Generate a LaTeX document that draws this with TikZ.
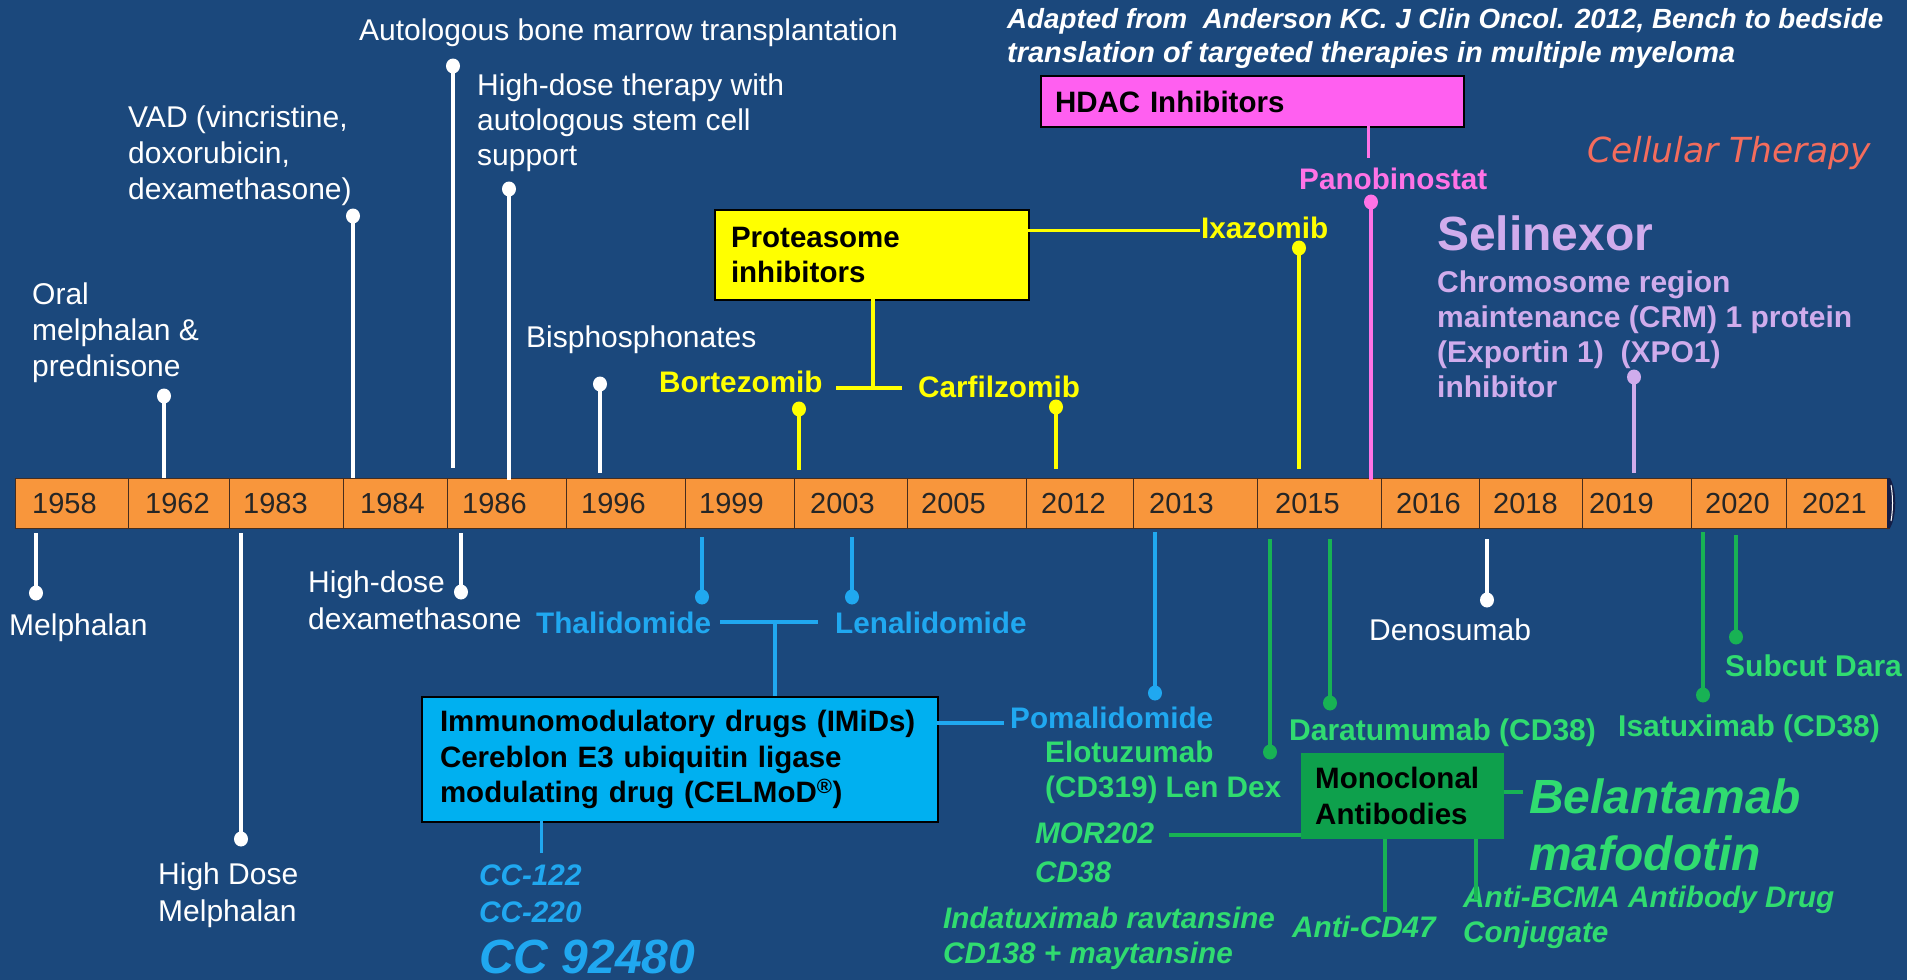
\documentclass[tikz,border=0pt]{standalone}
\usepackage{graphicx}
\usepackage{fontspec}
\setmainfont{Liberation Sans}
\newfontfamily\dvs{DejaVu Sans}
\newcommand\fz[2]{\fontsize{#1}{#2}\selectfont}
\definecolor{bg}{RGB}{27,72,124}
\definecolor{orng}{RGB}{248,150,60}
\definecolor{celledge}{RGB}{70,45,30}
\definecolor{ylw}{RGB}{255,255,0}
\definecolor{pnkbox}{RGB}{255,95,240}
\definecolor{pnk}{RGB}{255,115,230}
\definecolor{lav}{RGB}{208,172,236}
\definecolor{salm}{RGB}{244,108,92}
\definecolor{blu}{RGB}{32,168,240}
\definecolor{blubox}{RGB}{0,176,240}
\definecolor{grn}{RGB}{48,220,112}
\definecolor{grnln}{RGB}{24,178,84}
\definecolor{grnbox}{RGB}{14,160,76}
\definecolor{capdark}{RGB}{20,30,70}
\begin{document}
\begin{tikzpicture}[x=1pt,y=-1pt,
  txt/.style={inner sep=0pt, anchor=base west, font=\fz{30}{35}},
  btxt/.style={inner sep=0pt, anchor=base west, font=\bfseries\fz{29.7}{35}},
  bitxt/.style={inner sep=0pt, anchor=base west, font=\bfseries\itshape\fz{29.7}{35}},
  mlt/.style={inner sep=0pt, anchor=north west, align=left},
  cell/.style={draw=celledge, line width=1.3pt, fill=orng, minimum height=50pt, inner sep=0pt, anchor=north west},
  yr/.style={inner sep=0pt, anchor=base west, font=\fz{29}{35}, text=black!85},
  pinline/.style={line width=4pt},
  conn/.style={line width=4pt},
  catbox/.style={draw=black, line width=2pt, anchor=north west, align=left, font=\bfseries\fz{29.5}{35.5}, text=black}
]
\useasboundingbox (0,0) rectangle (1907,980);
\fill[bg] (0,0) rectangle (1907,980);

% ---------- timeline bar ----------
\foreach \a/\b/\yy/\p in {15/128/1958/17, 128/229/1962/17, 229/343/1983/14, 343/447/1984/17, 447/566/1986/15, 566/685/1996/15, 685/794/1999/14, 794/907/2003/16, 907/1026/2005/14, 1026/1133/2012/15, 1133/1257/2013/16, 1257/1381/2015/18, 1381/1479/2016/15, 1479/1582/2018/14, 1582/1691/2019/7, 1691/1786/2020/14, 1786/1889/2021/16}{
  \pgfmathsetmacro\w{\b-\a}
  \node[cell, minimum width=\w pt] (c\yy) at (\a,478) {};
  \node[yr] (t\yy) at (\a+\p,513) {\yy};
}
\fill[capdark] (1887,478) -- (1890,478) .. controls (1897,490) and (1897,516) .. (1890,528) -- (1887,528) -- cycle;
\draw[white, line width=1pt] (1891,485) .. controls (1893,496) and (1893,510) .. (1891,521);

% ---------- pins above the bar ----------
\foreach \x/\d/\e/\c/\n in {164/396/478/white/pA, 353/216/478/white/pB, 453/66/468/white/pC, 509/189/480/white/pD, 600/384/473/white/pE, 799/409/470/ylw/pF, 1056/407/469/ylw/pG, 1299/248/469/ylw/pH, 1371/202/480/pnk/pI, 1634/377/473/lav/pJ}{
  \coordinate (\n-d) at (\x,\d);
  \coordinate (\n-e) at (\x,\e);
  \draw[pinline, draw=\c] (\n-d) -- (\n-e);
  \fill[fill=\c] (\n-d) ellipse[x radius=7, y radius=7.5];
}
% ---------- pins below the bar ----------
\foreach \x/\s/\d/\c/\n in {36/533/593/white/qA, 241/533/839/white/qB, 461/533/592/white/qC, 1487/539/600/white/qD, 702/537/597/blu/qE, 852/537/597/blu/qF, 1155/532/693/blu/qG, 1270/539/752/grnln/qH, 1330/539/703/grnln/qI, 1703/532/695/grnln/qJ, 1736/535/637/grnln/qK}{
  \coordinate (\n-s) at (\x,\s);
  \coordinate (\n-d) at (\x,\d);
  \draw[pinline, draw=\c] (\n-s) -- (\n-d);
  \fill[fill=\c] (\n-d) ellipse[x radius=7, y radius=7.5];
}

% ---------- white labels above ----------
\node[txt, text=white] (abmt) at (359,40) {Autologous bone marrow transplantation};
\node[mlt, text=white, font=\fz{30}{35}] (hdt) at (477,74) {High-dose therapy with\\autologous stem cell\\support};
\node[mlt, text=white, font=\fz{30}{36}] (vad) at (128,106) {VAD (vincristine,\\doxorubicin,\\dexamethasone)};
\node[mlt, text=white, font=\fz{30}{36}] (oral) at (32,283) {Oral\\melphalan \&\\prednisone};
\node[txt, text=white] (bis) at (526,347) {Bisphosphonates};

% ---------- reference ----------
\node[txt, text=white] (ref1) at (1007,28) {\resizebox{876pt}{!}{\bfseries\itshape\fz{27}{34}Adapted from\ \ Anderson KC. J Clin Oncol. 2012, Bench to bedside}};
\node[txt, text=white] (ref2) at (1007,62) {\resizebox{728pt}{!}{\bfseries\itshape\fz{27}{34}translation of targeted therapies in multiple myeloma}};

% ---------- HDAC ----------
\node[catbox, fill=pnkbox, minimum width=423pt, minimum height=51pt, text width=395pt, inner xsep=14pt, inner ysep=0pt] (hdac) at (1040,75) {HDAC Inhibitors};
\node[btxt, text=pnk] (pano) at (1299,189) {Panobinostat};
\coordinate (hdac-b) at (1368,126);
\coordinate (hdac-e) at (1368,158);
\draw[conn, draw=pnk, line width=3pt] (hdac-b) -- (hdac-e);

% ---------- cellular therapy / selinexor ----------
\node[txt, text=salm, font=\dvs\itshape\fz{34.5}{40}] (cell) at (1587,162) {Cellular Therapy};
\node[txt, text=lav, font=\bfseries\fz{48}{52}] (seli) at (1437,250) {Selinexor};
\node[mlt, text=lav, font=\bfseries\fz{30}{35}] (crm) at (1437,271) {Chromosome region\\maintenance (CRM) 1 protein\\(Exportin 1)\ \ (XPO1)\\inhibitor};

% ---------- proteasome inhibitors ----------
\node[catbox, fill=ylw, minimum width=314pt, minimum height=90pt, text width=282pt, inner xsep=16pt, inner ysep=0pt] (prot) at (714,209) {Proteasome\\inhibitors};
\node[btxt, text=ylw] (bort) at (659,392) {Bortezomib};
\node[btxt, text=ylw] (carf) at (918,397) {Carfilzomib};
\node[btxt, text=ylw] (ixa) at (1201,238) {Ixazomib};
\coordinate (prot-b) at (873,299);
\coordinate (prot-j) at (873,388);
\coordinate (bort-r) at (836,388);
\coordinate (carf-l) at (902,388);
\coordinate (prot-r) at (1028,230);
\coordinate (ixa-l) at (1200,230);
\draw[conn, draw=ylw] (prot-b) -- (prot-j);
\draw[conn, draw=ylw] (bort-r) -- (carf-l);
\draw[conn, draw=ylw, line width=3pt] (prot-r) -- (ixa-l);

% ---------- white labels below ----------
\node[txt, text=white] (melph) at (9,635) {Melphalan};
\node[mlt, text=white, font=\fz{30}{37}] (hdd) at (308,571) {High-dose\\dexamethasone};
\node[mlt, text=white, font=\fz{30}{37}] (hdm) at (158,863) {High Dose\\Melphalan};
\node[txt, text=white] (deno) at (1369,640) {Denosumab};

% ---------- IMiDs ----------
\node[btxt, text=blu] (thal) at (536,633) {Thalidomide};
\node[btxt, text=blu] (lena) at (835,633) {Lenalidomide};
\node[btxt, text=blu] (poma) at (1010,728) {Pomalidomide};
\node[catbox, fill=blubox, minimum width=516pt, minimum height=125pt, text width=480pt, inner xsep=18pt, inner ysep=0pt] (imid) at (421,696) {Immunomodulatory drugs (IMiDs)\\Cereblon E3 ubiquitin ligase\\modulating drug (CELMoD\textsuperscript{®})};
\coordinate (thal-r) at (720,622);
\coordinate (lena-l) at (818,622);
\coordinate (imid-j) at (775,622);
\coordinate (imid-t) at (775,696);
\coordinate (imid-r) at (937,723);
\coordinate (poma-l) at (1004,723);
\coordinate (imid-b) at (541,821);
\coordinate (cc-t) at (541,853);
\draw[conn, draw=blu] (thal-r) -- (lena-l);
\draw[conn, draw=blu] (imid-j) -- (imid-t);
\draw[conn, draw=blu] (imid-r) -- (poma-l);
\draw[conn, draw=blu, line width=3pt] (imid-b) -- (cc-t);
\node[bitxt, text=blu] (cc1) at (479,885) {CC-122};
\node[bitxt, text=blu] (cc2) at (479,922) {CC-220};
\node[bitxt, text=blu, font=\bfseries\itshape\fz{48}{52}] (cc3) at (479,973) {CC 92480};

% ---------- monoclonal antibodies ----------
\node[mlt, text=grn, font=\bfseries\fz{29.7}{35}] (elo) at (1045,741) {Elotuzumab\\(CD319) Len Dex};
\node[btxt, text=grn, font=\bfseries\fz{30}{35}] (dara) at (1289,740) {Daratumumab (CD38)};
\node[btxt, text=grn, font=\bfseries\fz{30}{35}] (isa) at (1618,736) {Isatuximab (CD38)};
\node[btxt, text=grn, font=\bfseries\fz{30}{35}] (subq) at (1725,676) {Subcut Dara};
\node[draw=none, fill=grnbox, anchor=north west, align=left, font=\bfseries\fz{29.5}{36}, text=black, minimum width=203pt, minimum height=86pt, text width=175pt, inner xsep=14pt, inner ysep=0pt] (mab) at (1301,753) {Monoclonal\\Antibodies};
\node[bitxt, text=grn] (mor) at (1035,843) {MOR202};
\node[bitxt, text=grn] (cd38) at (1035,882) {CD38};
\node[bitxt, text=grn] (inda1) at (943,928) {Indatuximab ravtansine};
\node[bitxt, text=grn] (inda2) at (943,963) {CD138 + maytansine};
\node[bitxt, text=grn] (cd47) at (1292,937) {Anti-CD47};
\node[bitxt, text=grn] (bcma1) at (1463,907) {Anti-BCMA Antibody Drug};
\node[bitxt, text=grn] (bcma2) at (1463,942) {Conjugate};
\node[bitxt, text=grn, font=\bfseries\itshape\fz{48}{52}] (bel1) at (1529,813) {Belantamab};
\node[bitxt, text=grn, font=\bfseries\itshape\fz{48}{52}] (bel2) at (1529,870) {mafodotin};
\coordinate (mor-r) at (1169,835);
\coordinate (mab-l) at (1301,835);
\coordinate (mab-r) at (1504,792);
\coordinate (bel-l) at (1523,792);
\coordinate (mab-b1) at (1385,839);
\coordinate (cd47-t) at (1385,912);
\coordinate (mab-b2) at (1476,839);
\coordinate (bcma-t) at (1476,900);
\draw[conn, draw=grnln] (mor-r) -- (mab-l);
\draw[conn, draw=grnln] (mab-r) -- (bel-l);
\draw[conn, draw=grnln] (mab-b1) -- (cd47-t);
\draw[conn, draw=grnln] (mab-b2) -- (bcma-t);
\end{tikzpicture}
\end{document}
